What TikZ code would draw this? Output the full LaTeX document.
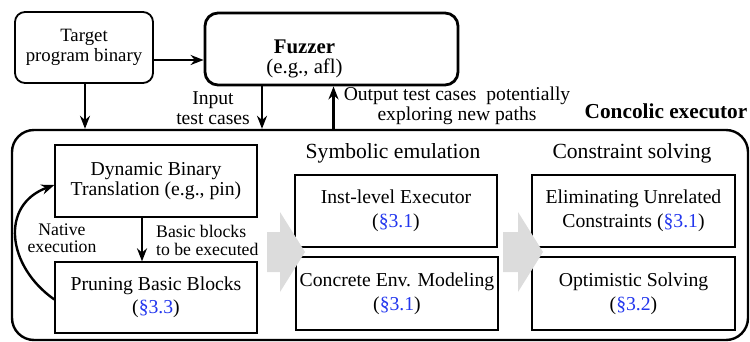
\documentclass[tikz,border=0pt]{standalone}
\usepackage{fontspec}
\setmainfont{Liberation Serif}
\usetikzlibrary{calc, arrows.meta, positioning}
\definecolor{stagegray}{HTML}{DCDCDC}
\definecolor{refblue}{HTML}{2236EE}
\newcommand{\secref}[1]{\textcolor{refblue}{\S#1}}

\begin{document}
\begin{tikzpicture}[
    x=1pt, y=-1pt,
    >={Stealth[length=13pt, width=10pt]},
    line width=2.4pt,
    font=\rmfamily\fontsize{19.7}{24}\selectfont,
    outer/.style={draw, rounded corners=#1, align=center, inner sep=0pt},
    part/.style={draw, line width=1.3pt, minimum width=202pt, minimum height=72pt, align=center, inner sep=0pt},
    note/.style={align=center, inner sep=0pt, font=\rmfamily\fontsize{19.6}{20}\selectfont},
    side/.style={align=center, inner sep=0pt, font=\rmfamily\fontsize{17.7}{17.5}\selectfont},
    stage/.style={align=center, inner sep=0pt, font=\rmfamily\fontsize{21.6}{24}\selectfont}
]
    \useasboundingbox (0,0) rectangle (750,342);

    % 1. Top row: target and fuzzer
    \node[outer=10pt, line width=1.8pt, minimum width=138pt, minimum height=71pt,
          font=\rmfamily\fontsize{18.8}{20}\selectfont] (target) at (84,47.5) {Target\\program binary};
    \node[outer=13pt, line width=2.8pt, minimum width=253pt, minimum height=72pt] (fuzzer) at (331.5,49) {};
    \node[note, font=\rmfamily\fontsize{20.8}{20}\selectfont] (fuzzertext) at (304.5,59) {\textbf{Fuzzer}\\(e.g., afl)};

    % 2. Concolic executor boundary
    \node[outer=22pt, line width=2.4pt, minimum width=736pt, minimum height=210pt] (concolic) at (380,235) {};
    \node[stage, font=\rmfamily\bfseries\fontsize{21.3}{24}\selectfont] (conclabel) at (666,111) {Concolic executor};

    % 3. Dynamic binary translation column
    \node[part, font=\rmfamily\fontsize{19.7}{20.5}\selectfont] (dbt) at (156,181) {Dynamic Binary\\Translation (e.g., pin)};
    \node[part, minimum height=71pt, font=\rmfamily\fontsize{19.7}{23}\selectfont] (prune) at (156,297.5) {Pruning Basic Blocks\\(\secref{3.3})};

    % 4. Symbolic emulation column
    \node[stage] (symlabel) at (393,153) {Symbolic emulation};
    \node[part] (inst) at (396,211) {Inst-level Executor\\(\secref{3.1})};
    \node[part, minimum height=73pt] (envmod) at (397,293.5) {Concrete Env. Modeling\\(\secref{3.1})};

    % 5. Constraint solving column
    \node[stage] (solvlabel) at (632,153) {Constraint solving};
    \node[part, minimum width=203pt] (elim) at (633.5,211) {Eliminating Unrelated\\Constraints (\secref{3.1})};
    \node[part, minimum width=203pt, minimum height=73pt] (optim) at (633.5,293.5) {Optimistic Solving\\(\secref{3.2})};

    % Stage arrows (gray)
    \fill[stagegray] (267,232) -- (280,232) -- (280,212) -- (305,252) -- (280,292) -- (280,272) -- (267,272) -- cycle;
    \fill[stagegray] (503,232) -- (518,232) -- (518,212) -- (543,252) -- (518,292) -- (518,272) -- (503,272) -- cycle;

    % Connections
    \draw[->] (target.east |- 0,60) -- (fuzzer.west |- 0,60);
    \draw[->] ([xshift=1pt]target.south) -- ([xshift=1pt]target.south |- concolic.north);
    \draw[->] ([xshift=-69.5pt]fuzzer.south) -- ([xshift=-69.5pt]fuzzer.south |- concolic.north);
    \node[note] (inputlabel) at (213,108) {Input\\test cases};
    \draw[->] ([xshift=2pt]fuzzer.south |- concolic.north) -- ([xshift=2pt]fuzzer.south);
    \node[note] (outputlabel) at (457,106) {Output test cases\ \ potentially\\exploring new paths};
    \draw[->] ([xshift=-14pt]dbt.south) -- ([xshift=-14pt]dbt.south |- prune.north)
        node[side, align=left, midway, anchor=west, xshift=13pt, yshift=-1pt] {Basic blocks\\to be executed};
    \draw[->] ([yshift=-2pt]prune.west) to[out=145, in=200, looseness=1.3] ([yshift=-4pt]dbt.west);
    \node[side] (nativelabel) at (62,238) {Native\\execution};

\end{tikzpicture}
\end{document}
